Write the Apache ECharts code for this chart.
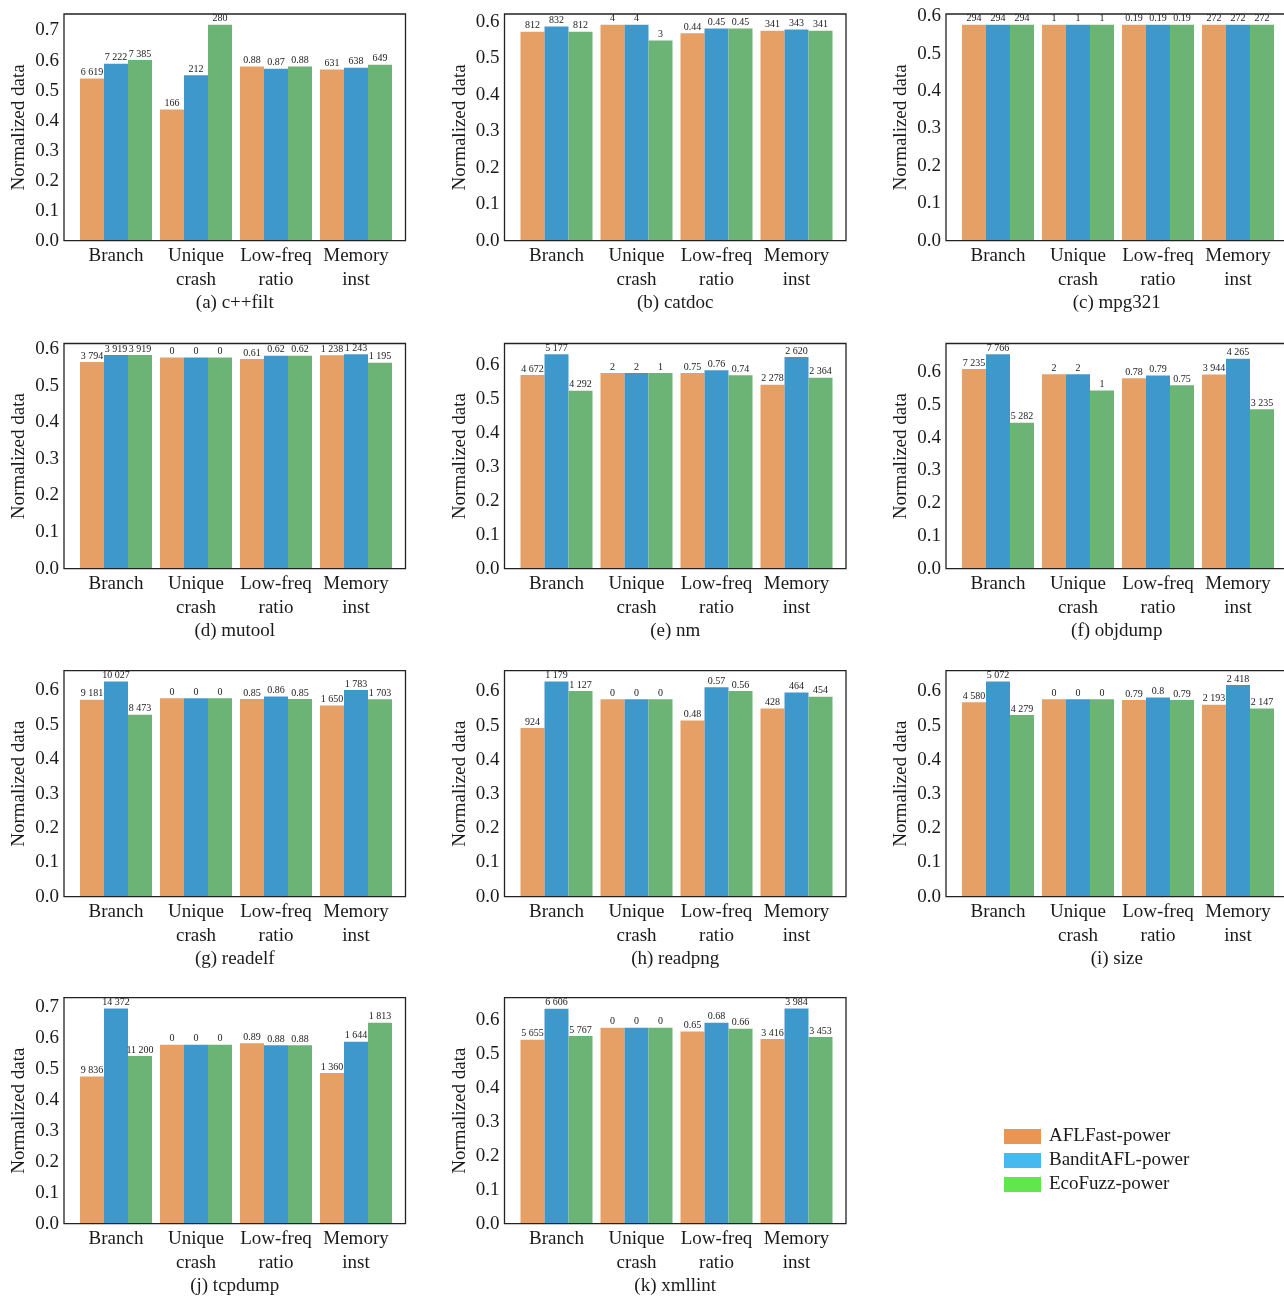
<!DOCTYPE html>
<html><head><meta charset="utf-8">
<script src="https://cdn.jsdelivr.net/npm/echarts@6/dist/echarts.min.js"></script>
<style>html,body{margin:0;padding:0;background:#fff}#c{width:1284px;height:1297px}</style>
</head><body><div id="c"></div><script>
const categories = ['Branch', 'Unique\ncrash', 'Low-freq\nratio', 'Memory\ninst'];
const panelTitles = ['(a) c++filt', '(b) catdoc', '(c) mpg321', '(d) mutool', '(e) nm', '(f) objdump',
  '(g) readelf', '(h) readpng', '(i) size', '(j) tcpdump', '(k) xmllint'];
const seriesNames = ['AFLFast-power', 'BanditAFL-power', 'EcoFuzz-power'];

// Normalized heights
const aflNorm = [
  [0.540, 0.437, 0.580, 0.570],
  [0.573, 0.592, 0.569, 0.576],
  [0.577, 0.577, 0.577, 0.577],
  [0.565, 0.577, 0.573, 0.583],
  [0.571, 0.577, 0.577, 0.542],
  [0.610, 0.594, 0.582, 0.593],
  [0.573, 0.577, 0.575, 0.556],
  [0.493, 0.577, 0.515, 0.550],
  [0.568, 0.577, 0.575, 0.561],
  [0.475, 0.577, 0.582, 0.486],
  [0.542, 0.577, 0.566, 0.544]
];
const banditNorm = [
  [0.589, 0.551, 0.573, 0.576],
  [0.587, 0.592, 0.582, 0.579],
  [0.577, 0.577, 0.577, 0.577],
  [0.584, 0.577, 0.582, 0.586],
  [0.632, 0.577, 0.585, 0.624],
  [0.655, 0.594, 0.590, 0.641],
  [0.626, 0.577, 0.582, 0.601],
  [0.629, 0.577, 0.612, 0.597],
  [0.629, 0.577, 0.582, 0.619],
  [0.694, 0.577, 0.575, 0.587],
  [0.633, 0.577, 0.592, 0.634]
];
const ecoNorm = [
  [0.602, 0.719, 0.580, 0.586],
  [0.573, 0.549, 0.582, 0.576],
  [0.577, 0.577, 0.577, 0.577],
  [0.584, 0.577, 0.582, 0.563],
  [0.524, 0.577, 0.570, 0.563],
  [0.446, 0.544, 0.560, 0.487],
  [0.529, 0.577, 0.575, 0.574],
  [0.601, 0.577, 0.601, 0.584],
  [0.531, 0.577, 0.575, 0.550],
  [0.541, 0.577, 0.575, 0.648],
  [0.553, 0.577, 0.574, 0.550]
];
// Raw values printed on top of bars
const aflRaw = [
  [6619, 166, 0.88, 631], [812, 4, 0.44, 341], [294, 1, 0.19, 272], [3794, 0, 0.61, 1238],
  [4672, 2, 0.75, 2278], [7235, 2, 0.78, 3944], [9181, 0, 0.85, 1650], [924, 0, 0.48, 428],
  [4580, 0, 0.79, 2193], [9836, 0, 0.89, 1360], [5655, 0, 0.65, 3416]
];
const banditRaw = [
  [7222, 212, 0.87, 638], [832, 4, 0.45, 343], [294, 1, 0.19, 272], [3919, 0, 0.62, 1243],
  [5177, 2, 0.76, 2620], [7766, 2, 0.79, 4265], [10027, 0, 0.86, 1783], [1179, 0, 0.57, 464],
  [5072, 0, 0.8, 2418], [14372, 0, 0.88, 1644], [6606, 0, 0.68, 3984]
];
const ecoRaw = [
  [7385, 280, 0.88, 649], [812, 3, 0.45, 341], [294, 1, 0.19, 272], [3919, 0, 0.62, 1195],
  [4292, 1, 0.74, 2364], [5282, 1, 0.75, 3235], [8473, 0, 0.85, 1703], [1127, 0, 0.56, 454],
  [4279, 0, 0.79, 2147], [11200, 0, 0.88, 1813], [5767, 0, 0.66, 3453]
];

const barColors = ['#E69F64', '#3E98CC', '#6CB376'];
const legendColors = ['#E89656', '#46BAEE', '#62E64E'];
const FONT = "'Liberation Serif','Times New Roman',serif";
const TXT = '#1a1a1a';

const colLeft = [64, 504.5, 946];
const rowTop = [14, 343.5, 670.7, 997.7];
const rowBottom = [240.7, 568.7, 896.7, 1223.7];
const frameW = 341.5;

function fmt(v) {
  if (Number.isInteger(v) && v >= 1000) return String(v).replace(/\B(?=(\d{3})+(?!\d))/g, ' ');
  return String(v);
}

const grids = [], xAxes = [], yAxes = [], series = [], graphics = [];
const norms = [aflNorm, banditNorm, ecoNorm];
const raws = [aflRaw, banditRaw, ecoRaw];

panelTitles.forEach((title, i) => {
  const r = Math.floor(i / 3), c = i % 3;
  const fl = colLeft[c], ft = rowTop[r], fb = rowBottom[r];
  grids.push({ left: fl + 12, width: 320, top: ft, height: fb - ft });
  let mx = 0;
  norms.forEach(n => n[i].forEach(v => { if (v > mx) mx = v; }));
  const ymax = mx * 1.05;
  xAxes.push({
    type: 'category', gridIndex: i, data: categories,
    axisLine: { show: false },
    axisTick: { show: true, inside: true, alignWithLabel: true, length: 5, lineStyle: { color: TXT, width: 1.2 } },
    axisLabel: { interval: 0, fontSize: 19, lineHeight: 23.5, margin: 4, color: TXT, fontFamily: FONT }
  });
  yAxes.push({
    type: 'value', gridIndex: i, min: 0, max: ymax, interval: 0.1,
    axisLine: { show: false }, axisTick: { show: false }, splitLine: { show: false },
    axisLabel: {
      margin: 17, fontSize: 19, color: TXT, fontFamily: FONT,
      formatter: v => (Math.abs(v * 10 - Math.round(v * 10)) < 1e-6 ? v.toFixed(1) : '')
    },
    name: 'Normalized data', nameLocation: 'middle', nameGap: 47, nameRotate: 90,
    nameTextStyle: { fontSize: 19, color: TXT, fontFamily: FONT }
  });
  seriesNames.forEach((sn, s) => {
    const rawArr = raws[s][i];
    series.push({
      type: 'bar', name: sn, xAxisIndex: i, yAxisIndex: i,
      data: norms[s][i],
      barGap: '0%', barCategoryGap: '10%',
      itemStyle: { color: barColors[s] },
      label: {
        show: true, position: 'top', distance: 1, fontSize: 10, color: TXT, fontFamily: FONT,
        formatter: p => fmt(rawArr[p.dataIndex])
      },
      emphasis: { disabled: true }, animation: false
    });
  });
  graphics.push({
    type: 'rect', shape: { x: fl, y: ft, width: frameW, height: fb - ft },
    style: { fill: 'none', stroke: '#222', lineWidth: 1.3 }, z: 10, silent: true
  });
  graphics.push({
    type: 'text', x: fl + frameW / 2, y: fb + 62,
    style: { text: title, font: "19px 'Liberation Serif','Times New Roman',serif", fill: TXT, textAlign: 'center', textVerticalAlign: 'middle' },
    z: 10, silent: true
  });
});

const chart = echarts.init(document.getElementById('c'), null, { renderer: 'canvas' });
chart.setOption({
  backgroundColor: '#fff',
  animation: false,
  grid: grids, xAxis: xAxes, yAxis: yAxes, series: series,
  legend: {
    orient: 'vertical', left: 1004, top: 1127, padding: 0,
    itemWidth: 37, itemHeight: 15, itemGap: 5,
    textStyle: { fontSize: 19, color: TXT, fontFamily: FONT, padding: [0, 0, 0, 3] },
    selectedMode: false,
    data: seriesNames.map((n, k) => ({ name: n, icon: 'rect', itemStyle: { color: legendColors[k] } }))
  },
  graphic: graphics
});
</script></body></html>
